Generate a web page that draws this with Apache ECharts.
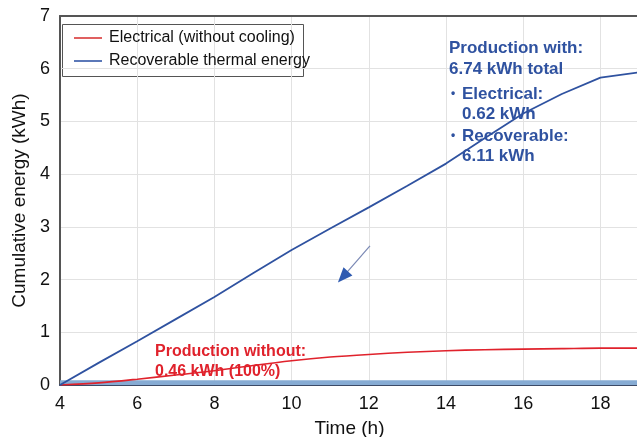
<!DOCTYPE html>
<html><head><meta charset="utf-8">
<script src="https://cdn.jsdelivr.net/npm/echarts@6/dist/echarts.min.js"></script>
<style>html,body{margin:0;padding:0;background:#fff}#c{width:637px;height:437px}</style>
</head><body><div id="c"></div>
<script>
const times = [4,5,6,7,8,9,10,11,12,13,14,15,16,17,18,19];
const thermal = [0,0.42,0.83,1.25,1.67,2.12,2.56,2.97,3.37,3.78,4.2,4.68,5.15,5.52,5.83,5.93];
const electrical = [0,0.04,0.11,0.19,0.27,0.37,0.46,0.53,0.58,0.62,0.65,0.67,0.68,0.69,0.70,0.70];
const band = [0.09,0.09,0.09,0.09,0.09,0.09,0.09,0.09,0.09,0.09,0.09,0.09,0.09,0.09,0.09,0.09];
const xTicks = [4,6,8,10,12,14,16,18];
const yTicks = [0,1,2,3,4,5,6,7];
const arrowFrom = [12.03,2.64], arrowHead = [11.33,2.05];

const RED = '#e0222c', BLUE = '#2f52a0';
const font = 'Liberation Sans, Arial, sans-serif';
const pair = (xs, ys) => xs.map((x,i)=>[x, ys[i]]);

const chart = echarts.init(document.getElementById('c'));
chart.setOption({
  animation:false,
  grid:{left:60, right:-2, top:16, bottom:52, containLabel:false, outerBoundsMode:'none'},
  legend:{
    orient:'vertical', left:62, top:24, padding:[6,6,5,12], itemGap:7,
    borderWidth:0, itemWidth:28, itemHeight:2,
    textStyle:{fontFamily:font, fontSize:16, color:'#111', padding:[0,0,0,2]},
    data:[{name:'Electrical (without cooling)', icon:'rect', itemStyle:{color:'#e06060'}},
          {name:'Recoverable thermal energy', icon:'rect', itemStyle:{color:'#5b78b8'}}]
  },
  xAxis:[{
    type:'value', min:4, max:19, interval:2,
    name:'Time (h)', nameLocation:'middle', nameGap:34,
    nameTextStyle:{fontFamily:font, fontSize:19, color:'#111'},
    axisLine:{show:true, lineStyle:{color:'#3c4a66', width:2}},
    axisTick:{show:false},
    axisLabel:{fontFamily:font, fontSize:18, color:'#111', margin:10,
      formatter:v=>xTicks.includes(v)?String(v):''},
    splitLine:{show:true, lineStyle:{color:'#e2e2e2', width:1}}
  },{
    type:'value', position:'top', min:4, max:19,
    axisLine:{show:true, lineStyle:{color:'#555', width:2}},
    axisTick:{show:false}, axisLabel:{show:false}, splitLine:{show:false}
  }],
  yAxis:{
    type:'value', min:0, max:7, interval:1,
    name:'Cumulative energy (kWh)', nameLocation:'middle', nameGap:29,
    nameTextStyle:{fontFamily:font, fontSize:19, color:'#111'},
    axisLine:{show:true, lineStyle:{color:'#555', width:2}},
    axisTick:{show:false},
    axisLabel:{fontFamily:font, fontSize:18, color:'#111', margin:10,
      formatter:v=>yTicks.includes(v)?String(v):''},
    splitLine:{show:true, lineStyle:{color:'#e2e2e2', width:1}}
  },
  series:[
    {type:'line', name:'band', data:pair(times, band), symbol:'none', silent:true,
     lineStyle:{width:0}, areaStyle:{color:'#86abd3', opacity:1}, z:1},
    {type:'line', name:'Electrical (without cooling)', data:pair(times, electrical), symbol:'none',
     smooth:0.3, lineStyle:{color:RED, width:1.6}, itemStyle:{color:RED}, z:3},
    {type:'line', name:'Recoverable thermal energy', data:pair(times, thermal), symbol:'none',
     lineStyle:{color:BLUE, width:1.8}, itemStyle:{color:BLUE}, z:3,
     markLine:{silent:true, symbol:['none','none'], label:{show:false},
       lineStyle:{color:'#7a88b4', width:1.2, type:'solid'},
       data:[[{coord:arrowFrom},{coord:arrowHead}]]},
     markPoint:{silent:true, symbol:'triangle', symbolSize:[12,15], symbolRotate:138,
       itemStyle:{color:'#2f5ab0'}, label:{show:false},
       data:[{coord:arrowHead}]}}
  ],
  graphic:[
    {type:'rect', left:62, top:24, z:0, shape:{width:241, height:52},
     style:{fill:'rgba(255,255,255,0.9)', stroke:'#555', lineWidth:1}},
    {type:'text', left:449, top:38, z:1, style:{text:'Production with:\n6.74 kWh total', fill:BLUE,
      font:'bold 17px '+font, lineHeight:21}},
    {type:'text', left:451, top:88, z:1, style:{text:'•', fill:BLUE, font:'bold 12px '+font}},
    {type:'text', left:462, top:84, z:1, style:{text:'Electrical:\n0.62 kWh', fill:BLUE,
      font:'bold 17px '+font, lineHeight:20}},
    {type:'text', left:451, top:130, z:1, style:{text:'•', fill:BLUE, font:'bold 12px '+font}},
    {type:'text', left:462, top:126, z:1, style:{text:'Recoverable:\n6.11 kWh', fill:BLUE,
      font:'bold 17px '+font, lineHeight:20}},
    {type:'text', left:155, top:342, z:1, style:{text:'Production without:\n0.46 kWh (100%)', fill:RED,
      font:'bold 16px '+font, lineHeight:20}}
  ]
});
</script></body></html>
